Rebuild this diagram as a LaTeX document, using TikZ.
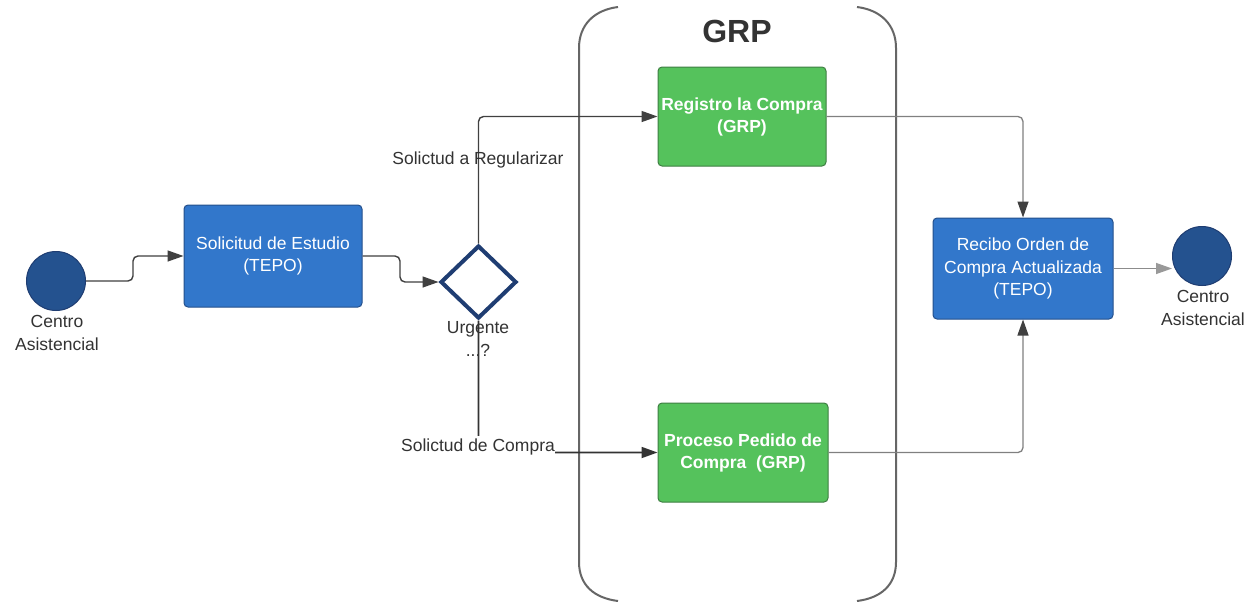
\documentclass[tikz,border=0pt]{standalone}
\usepackage{fontspec}
\setmainfont{Liberation Sans}
\usetikzlibrary{arrows.meta,shapes.geometric}
\definecolor{boxblue}{HTML}{3277CB}
\definecolor{boxblueedge}{HTML}{24508C}
\definecolor{circblue}{HTML}{24528F}
\definecolor{navy}{HTML}{1F3D72}
\definecolor{boxgreen}{HTML}{55C25C}
\definecolor{greenedge}{HTML}{3E7F42}
\definecolor{txt}{HTML}{333333}
\tikzset{
  every node/.style={font=\fontsize{17.5}{22.5}\selectfont, text=txt},
  bluebox/.style={rectangle, rounded corners=4pt, fill=boxblue, draw=boxblueedge, line width=1pt,
    text=white, align=center, inner sep=0pt},
  greenbox/.style={rectangle, rounded corners=4pt, fill=boxgreen, draw=greenedge, line width=1pt,
    text=white, align=center, inner sep=0pt, font=\fontsize{17.5}{22}\selectfont\bfseries},
  endcirc/.style={circle, fill=circblue, draw=navy, line width=1pt, minimum size=59pt, inner sep=0pt},
  gate/.style={diamond, draw=navy, fill=white, line width=4pt, minimum width=76pt, minimum height=73pt, inner sep=0pt},
  lbl/.style={align=center, inner sep=0pt},
  conn/.style={draw=black!75, line width=1.4pt, rounded corners=5pt,
    -{Triangle[length=16pt,width=11pt]}},
  heavyconn/.style={conn, draw=black!80, line width=2.2pt},
  grayconn/.style={draw=black!50, line width=1.3pt, rounded corners=5pt,
    -{Triangle[length=16pt,width=11pt,fill=black!75,color=black!75]}},
  lightconn/.style={draw=black!45, line width=1.3pt,
    -{Triangle[length=16pt,width=11pt,fill=black!40,color=black!40]}},
  bracket/.style={draw=black!60, line width=2pt},
}
\begin{document}
\begin{tikzpicture}[x=1pt,y=-1pt]
\useasboundingbox (0,0) rectangle (1247,603);
\fill[white] (0,0) rectangle (1247,603);

% GRP container brackets
\draw[bracket] (618,7) .. controls (594,10) and (579,25) .. (579,48) -- (579,562)
  .. controls (579,585) and (594,598) .. (618,601);
\draw[bracket] (857,7) .. controls (881,10) and (896,25) .. (896,48) -- (896,562)
  .. controls (896,585) and (881,598) .. (857,601);
\node[font=\fontsize{32}{36}\selectfont\bfseries] (grp) at (737,31) {GRP};

% nodes
\node[endcirc] (c1) at (56,281) {};
\node[lbl] (c1l) at (57,333) {Centro\\Asistencial};
\node[bluebox, minimum width=178pt, minimum height=102pt] (b1) at (273,256) {Solicitud de Estudio\\(TEPO)};
\node[gate] (d) at (478.5,282) {};
\node[lbl] (dl) at (478,339) {Urgente\\...?};
\node[greenbox, minimum width=168pt, minimum height=99pt] (r) at (742,116.5) {Registro la Compra\\(GRP)};
\node[greenbox, minimum width=170pt, minimum height=99pt] (p) at (743,452.5) {Proceso Pedido de\\Compra~~(GRP)};
\node[bluebox, minimum width=180pt, minimum height=101pt] (rec) at (1023,268.5) {Recibo Orden de\\Compra Actualizada\\(TEPO)};
\node[endcirc] (c2) at (1202,256) {};
\node[lbl] (c2l) at (1203,308) {Centro\\Asistencial};

% connectors
\draw[conn] (c1.east) -- (133,281) |- (b1.west);
\draw[conn] (b1.east) -- (400,256) |- (d.west);
\draw[conn] (d.north) |- (r.west);
\draw[heavyconn, line width=1.8pt] (d.south) |- (p.west);
\node[lbl, anchor=base] (sr) at (478,164) {Solictud a Regularizar};
\node[lbl, anchor=base, fill=white, inner ysep=2pt] (sc) at (478,451) {Solictud de Compra};
\draw[grayconn] (r.east) -| (rec.north);
\draw[grayconn] (p.east) -| (rec.south);
\draw[lightconn] (rec.east) -- (rec.east -| c2.west);
\end{tikzpicture}
\end{document}
